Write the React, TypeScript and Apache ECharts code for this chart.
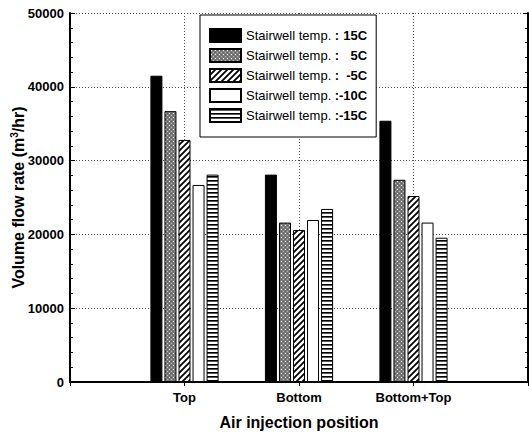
import React, { useEffect, useRef } from "react";
import * as echarts from "echarts";

const categories = ["", "Top", "Bottom", "Bottom+Top", ""];
const seriesNames = ["15C", "5C", "-5C", "-10C", "-15C"];
const legendValues = [" 15C", "5C", "-5C", "-10C", "-15C"];
const v15 = [null, 41500, 28100, 35400, null];
const v5 = [null, 36700, 21600, 27400, null];
const vm5 = [null, 32800, 20600, 25200, null];
const vm10 = [null, 26700, 21950, 21600, null];
const vm15 = [null, 28100, 23450, 19550, null];
const yTicks = [0, 10000, 20000, 30000, 40000, 50000];

const FONT = '"Liberation Sans", Arial, sans-serif';

function makePattern(kind: string) {
  const c = document.createElement("canvas");
  let w = 4, h = 4;
  if (kind === "hatch") { w = 6; h = 6; }
  c.width = w; c.height = h;
  const ctx = c.getContext("2d")!;
  if (kind === "gray") {
    ctx.fillStyle = "#7c7c7c";
    ctx.fillRect(0, 0, w, h);
    ctx.fillStyle = "#ffffff";
    ctx.fillRect(1, 1, 1, 1);
    ctx.fillStyle = "#b8b8b8";
    ctx.fillRect(3, 3, 1, 1);
    ctx.fillStyle = "#5a5a5a";
    ctx.fillRect(3, 1, 1, 1);
    ctx.fillRect(1, 3, 1, 1);
  } else if (kind === "hatch") {
    ctx.fillStyle = "#ffffff";
    ctx.fillRect(0, 0, w, h);
    ctx.strokeStyle = "#000000";
    ctx.lineWidth = 1.8;
    ctx.beginPath();
    ctx.moveTo(-1, h + 1); ctx.lineTo(w + 1, -1);
    ctx.moveTo(-1, 1); ctx.lineTo(1, -1);
    ctx.moveTo(w - 1, h + 1); ctx.lineTo(w + 1, h - 1);
    ctx.stroke();
  } else if (kind === "hstripe") {
    ctx.fillStyle = "#ffffff";
    ctx.fillRect(0, 0, w, h);
    ctx.fillStyle = "#000000";
    ctx.fillRect(0, 0, w, 1);
    ctx.fillStyle = "#555555";
    ctx.fillRect(0, 1, w, 1);
  }
  return { image: c, repeat: "repeat", imageWidth: w, imageHeight: h } as any;
}

export default function App() {
  const ref = useRef<HTMLDivElement>(null);
  useEffect(() => {
    if (!ref.current) return;
    const chart = echarts.init(ref.current, undefined, { renderer: "svg" });
    const fills: any[] = [
      "#000000",
      makePattern("gray"),
      makePattern("hatch"),
      "#ffffff",
      makePattern("hstripe"),
    ];
    const datasets = [v15, v5, vm5, vm10, vm15];
    const legendMap: Record<string, string> = {};
    seriesNames.forEach((n, i) => {
      legendMap[n] = "{a|Stairwell temp. }{b|:}{c|" + legendValues[i] + "}";
    });
    const axisLineStyle = { color: "#000", width: 2 };
    const option: any = {
      animation: false,
      backgroundColor: "#ffffff",
      textStyle: { fontFamily: FONT },
      grid: { left: 70, right: 1, top: 13, bottom: 52, containLabel: false, outerBoundsMode: "none" },
      legend: {
        orient: "vertical",
        left: 200,
        top: 15,
        icon: "rect",
        itemWidth: 31,
        itemHeight: 13,
        itemGap: 5,
        padding: [13, 9, 14, 9],
        backgroundColor: "#ffffff",
        borderColor: "#000000",
        borderWidth: 1,
        data: seriesNames,
        formatter: (name: string) => legendMap[name],
        textStyle: {
          fontFamily: FONT,
          fontSize: 13,
          color: "#000",
          rich: {
            a: { fontFamily: FONT, fontSize: 13, color: "#000" },
            b: { fontFamily: FONT, fontSize: 13, color: "#000", fontWeight: "bold" },
            c: { fontFamily: FONT, fontSize: 13, color: "#000", fontWeight: "bold", width: 28, align: "right" },
          },
        },
      },
      xAxis: [
        {
          type: "category",
          data: categories,
          boundaryGap: false,
          position: "bottom",
          axisLine: { show: true, lineStyle: axisLineStyle },
          axisTick: { show: false },
          axisLabel: { color: "#000", fontSize: 13, fontWeight: "bold", fontFamily: FONT, margin: 9, interval: 0 },
          splitLine: { show: true, lineStyle: { color: "#555", type: [1, 2], width: 1 } },
          name: "Air injection position",
          nameLocation: "middle",
          nameGap: 32,
          nameMoveOverlap: false,
          nameTextStyle: { color: "#000", fontSize: 16, fontWeight: "bold", fontFamily: FONT },
        },
        {
          type: "category",
          data: categories,
          boundaryGap: false,
          position: "top",
          axisLine: { show: true, lineStyle: axisLineStyle },
          axisTick: { show: true, inside: true, length: 4, lineStyle: { color: "#000" } },
          axisLabel: { show: false },
          splitLine: { show: false },
        },
      ],
      yAxis: [
        {
          type: "value",
          min: 0,
          max: 50000,
          interval: 10000,
          position: "left",
          axisLine: { show: true, lineStyle: axisLineStyle },
          axisTick: { show: true, inside: true, length: 5, lineStyle: { color: "#000" } },
          minorTick: { show: true, splitNumber: 5, length: 3, lineStyle: { color: "#000" } },
          axisLabel: {
            color: "#000", fontSize: 13, fontWeight: "bold", fontFamily: FONT, margin: 6,
            formatter: (v: number) => (yTicks.indexOf(v) >= 0 ? String(v) : ""),
          },
          splitLine: { show: true, lineStyle: { color: "#555", type: [1, 2], width: 1 } },
          name: "{t|Volume flow rate (m}{s|3}{t|/hr)}",
          nameLocation: "middle",
          nameGap: 42,
          nameMoveOverlap: false,
          nameTextStyle: {
            color: "#000",
            fontFamily: FONT,
            rich: {
              t: { fontSize: 16, fontWeight: "bold", fontFamily: FONT, color: "#000", lineHeight: 19 },
              s: { fontSize: 10, fontWeight: "bold", fontFamily: FONT, color: "#000", verticalAlign: "top" },
            },
          },
        },
        {
          type: "value",
          min: 0,
          max: 50000,
          interval: 10000,
          position: "right",
          axisLine: { show: true, lineStyle: axisLineStyle },
          axisTick: { show: true, inside: true, length: 5, lineStyle: { color: "#000" } },
          minorTick: { show: true, splitNumber: 5, length: 3, lineStyle: { color: "#000" } },
          axisLabel: { show: false },
          splitLine: { show: false },
        },
      ],
      series: seriesNames.map((n, i) => ({
        name: n,
        type: "bar",
        xAxisIndex: 0,
        yAxisIndex: 0,
        data: datasets[i],
        barWidth: 12,
        barGap: "17%",
        itemStyle: { color: fills[i], borderColor: "#000", borderWidth: 1 },
        emphasis: { disabled: true },
      })),
    };
    chart.setOption(option);
    return () => chart.dispose();
  }, []);
  return (
    <div
      ref={ref}
      style={{ position: "fixed", left: 0, top: 0, width: 529, height: 434, background: "#fff" }}
    />
  );
}
